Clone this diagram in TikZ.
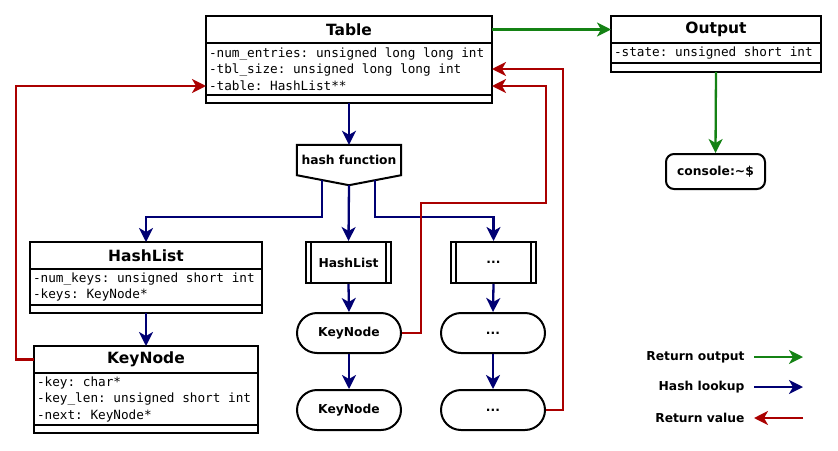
\documentclass[tikz,border=0pt]{standalone}
\usepackage{fontspec}
\setmainfont{DejaVu Sans}
\newfontfamily\umlmono{DejaVu Sans Mono}
\usepackage{tikz}
\usetikzlibrary{arrows.meta,shapes.misc,positioning,calc}
\usepackage{xcolor}
\definecolor{outgreen}{RGB}{20,130,20}
\definecolor{lookblue}{RGB}{0,0,115}
\definecolor{retred}{RGB}{170,0,0}
\newcommand\monospaces{\spaceskip=0.602em\relax\xspaceskip=0.602em\relax}

\begin{document}
\begin{tikzpicture}[x=1pt, y=-1pt,
    umlhead/.style={draw, line width=2pt, outer sep=0pt, inner sep=0pt, minimum height=27pt, font=\fontsize{15.5}{18}\selectfont\bfseries},
    umlattr/.style={draw, line width=2pt, outer sep=0pt, inner xsep=3pt, inner ysep=0pt, align=left,
        font=\umlmono\fontsize{12.7}{16.5}\selectfont, execute at begin node=\monospaces},
    umlfoot/.style={draw, line width=2pt, outer sep=0pt, inner sep=0pt},
    lbl/.style={font=\fontsize{12.3}{14}\selectfont\bfseries},
    pill/.style={draw, line width=2pt, rounded rectangle, minimum width=104pt, minimum height=40pt, inner sep=0pt, lbl},
    procbox/.style={draw, line width=2pt, minimum width=85pt, minimum height=41pt, inner sep=0pt, lbl},
    lookup/.style={-{Stealth[length=14pt,width=14pt,inset=4pt]}, line width=2.3pt, lookblue},
    retval/.style={-{Stealth[length=14pt,width=14pt,inset=4pt]}, line width=2.3pt, retred},
    retout/.style={-{Stealth[length=14pt,width=14pt,inset=4pt]}, line width=2.3pt, outgreen}]
    \useasboundingbox (0,0) rectangle (838,450);

    % Table class
    \node[umlhead, minimum width=286pt] (tbl) at (349,29.5) {Table};
    \node[umlattr, text width=280pt, minimum height=52pt, below=0pt of tbl] (tblattr)
        {-num\_entries: unsigned long long int\\-tbl\_size: unsigned long long int\\-table: HashList**};
    \node[umlfoot, minimum width=286pt, minimum height=8pt, below=0pt of tblattr] (tblfoot) {};

    % Output class and console
    \node[umlhead, minimum width=210pt] (out) at (716,29.5) {Output};
    \node[umlattr, text width=204pt, minimum height=20pt, below=0pt of out] (outattr) {-state: unsigned short int};
    \node[umlfoot, minimum width=210pt, minimum height=9pt, below=0pt of outattr] (outfoot) {};
    \node[draw, line width=2pt, rounded corners=8pt, minimum width=99pt, minimum height=35pt, inner sep=0pt, lbl] (console) at (715.5,171.5) {console:\textasciitilde\$};

    % hash function
    \node[minimum width=104pt, minimum height=30pt, inner sep=0pt, lbl] (hash) at (349,160) {hash function};
    \draw[line width=2pt] (hash.north west) -- (hash.north east) -- (hash.south east)
        -- ($(hash.south)+(0,10)$) -- (hash.south west) -- cycle;
    \coordinate (hashL) at ($(hash.south)+(-27,5)$);
    \coordinate (hashM) at ($(hash.south)+(0,10)$);
    \coordinate (hashR) at ($(hash.south)+(26,5)$);

    % HashList class
    \node[umlhead, minimum width=232pt] (hl) at (146,255.5) {HashList};
    \node[umlattr, text width=226pt, minimum height=36pt, below=0pt of hl] (hlattr)
        {-num\_keys: unsigned short int\\-keys: KeyNode*};
    \node[umlfoot, minimum width=232pt, minimum height=8pt, below=0pt of hlattr] (hlfoot) {};

    % KeyNode class
    \node[umlhead, minimum width=224pt] (kn) at (146,359.5) {KeyNode};
    \node[umlattr, text width=218pt, minimum height=52pt, below=0pt of kn] (knattr)
        {-key: char*\\-key\_len: unsigned short int\\-next: KeyNode*};
    \node[umlfoot, minimum width=224pt, minimum height=8pt, below=0pt of knattr] (knfoot) {};

    % buckets
    \node[procbox] (bucketA) at (348.5,262.5) {HashList};
    \node[procbox] (bucketB) at (493.5,262.5) {...};
    \foreach \b in {bucketA,bucketB} {
        \draw[line width=2pt] ([xshift=6pt]\b.north west) -- ([xshift=6pt]\b.south west);
        \draw[line width=2pt] ([xshift=-6pt]\b.north east) -- ([xshift=-6pt]\b.south east);
    }
    \node[pill] (keyA) at (349,333) {KeyNode};
    \node[pill] (keyB) at (349,410) {KeyNode};
    \node[pill] (dotsA) at (493,333) {...};
    \node[pill] (dotsB) at (493,410) {...};

    % Hash lookup arrows
    \draw[lookup] (tblfoot.south) -- (hash.north);
    \draw[lookup] (hashL) -- ++(0,37) -| (hl.north);
    \draw[lookup] (hashM) -- (bucketA.north);
    \draw[lookup] (hashR) -- ++(0,37) -| (bucketB.north);
    \draw[lookup] (hlfoot.south) -- (kn.north);
    \draw[lookup] (bucketA.south) -- (keyA.north);
    \draw[lookup] (keyA.south) -- (keyB.north);
    \draw[lookup] (bucketB.south) -- (dotsA.north);
    \draw[lookup] (dotsA.south) -- (dotsB.north);

    % Return value arrows
    \draw[retval] (kn.west) -- ++(-18,0) |- ([yshift=-17pt]tblattr.west);
    \draw[retval] (keyA.east) -- ++(19,0) -- ++(0,-130) -- ++(125,0) -- ++(0,-117) -- ([yshift=-17pt]tblattr.east);
    \draw[retval] (dotsB.east) -- ++(17,0) |- (tblattr.east);

    % Return output arrows
    \draw[retout] (tbl.east) -- (out.west);
    \draw[retout] (outfoot.south) -- (console.north);

    % Legend
    \node[lbl, anchor=east] (legout) at (748,357) {Return output};
    \node[lbl, anchor=east] (leglook) at (748,387) {Hash lookup};
    \node[lbl, anchor=east] (legret) at (748,418) {Return value};
    \draw[retout] ([xshift=6pt]legout.east) -- ++(49,0);
    \draw[lookup] ([xshift=6pt]leglook.east) -- ++(49,0);
    \draw[retval] ([xshift=55pt]legret.east) -- ++(-49,0);
\end{tikzpicture}
\end{document}
